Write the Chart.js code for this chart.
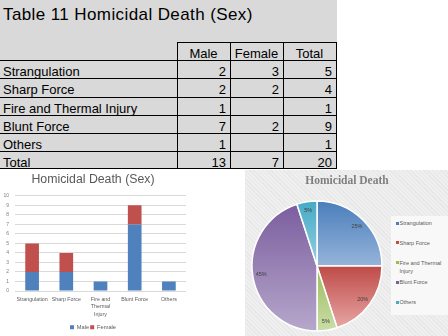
<!DOCTYPE html>
<html><head><meta charset="utf-8">
<script src="https://cdn.jsdelivr.net/npm/chart.js@4/dist/chart.umd.min.js"></script>
<style>
html,body{margin:0;padding:0;background:#fff;}
body{width:448px;height:336px;position:relative;overflow:hidden;font-family:"Liberation Sans",Arial,sans-serif;}
#sheet{position:absolute;left:0;top:0;width:337px;height:169px;background:#d9d9d9;}
.hl{position:absolute;height:1px;background:#000;}
.vl{position:absolute;width:1px;background:#000;}
.cell{position:absolute;height:18px;line-height:18px;font-size:13px;color:#000;white-space:nowrap;}
#ttl{position:absolute;left:3px;top:5px;font-size:17px;line-height:20px;letter-spacing:0.4px;white-space:nowrap;color:#000;}
#barWrap{position:absolute;left:0;top:170px;width:225px;height:166px;}
#pieWrap{position:absolute;left:245px;top:170px;width:203px;height:166px;background-color:#efefef;
  background-image:repeating-linear-gradient(45deg,rgba(0,0,0,0.035) 0 1px,transparent 1px 3px);}
#pieTitle{position:absolute;left:0;width:204px;top:3px;text-align:center;font-family:"Liberation Serif",serif;font-weight:bold;font-size:11.5px;line-height:14px;color:#7f7f7f;}
#pieLegend{position:absolute;left:146px;top:46px;width:57px;height:99px;background:#f8f8f8;}
.li{position:absolute;left:0;width:57px;font-size:5.5px;line-height:8px;color:#595959;}
.mk{position:absolute;left:5px;top:2.5px;width:3px;height:3px;}
.tx{position:absolute;left:8.5px;top:0;white-space:nowrap;}
canvas{position:absolute;left:0;top:0;}
</style>
</head>
<body>
<div id="sheet"><div id="ttl"></div></div>
<div id="barWrap"><canvas id="bar" width="225" height="166"></canvas></div>
<div id="pieWrap"><canvas id="pie" width="203" height="166"></canvas><div id="pieTitle"></div><div id="pieLegend"></div></div>
<script>
// ---- data ----
const tableTitle = 'Table 11 Homicidal Death (Sex)';
const columnHeaders = ['Male', 'Female', 'Total'];
const categories = ['Strangulation', 'Sharp Force', 'Fire and Thermal Injury', 'Blunt Force', 'Others'];
const maleCounts = [2, 2, 1, 7, 1];
const femaleCounts = [3, 2, null, 2, null];
const rowTotals = [5, 4, 1, 9, 1];
const totalLabel = 'Total';
const columnTotals = [13, 7, 20];
const barTitle = 'Homicidal Death (Sex)';
const barTickLabels = ['Strangulation', 'Sharp Force', ['Fire and', 'Thermal', 'Injury'], 'Blunt Force', 'Others'];
const pieTitle = 'Homicidal Death';
const pieLegendLabels = ['Strangulation', 'Sharp Force', ['Fire and Thermal', 'Injury'], 'Blunt Force', 'Others'];

// ---- styles / layout ----
const FONT = '"Liberation Sans", Arial, sans-serif';
const MALE_COLOR = '#4f81bd', FEMALE_COLOR = '#c0504d';
const sliceColors = [['#4a7ebb', '#96b4da'], ['#be4b48', '#e7a6a4'], ['#9bbb59', '#cadda8'], ['#7b5e9f', '#b6a7cb'], ['#46aac5', '#95d0e1']];
const PIE_R = 65;
const colX = [177, 230, 283, 336];
const rowY = [42, 60, 78, 97, 115, 133, 151, 168];

// ---- spreadsheet table ----
const sheet = document.getElementById('sheet');
document.getElementById('ttl').textContent = tableTitle;
function el(cls, css, text) {
  const d = document.createElement('div'); d.className = cls; Object.assign(d.style, css);
  if (text !== undefined && text !== null) d.textContent = text; sheet.appendChild(d); return d;
}
el('hl', {left: colX[0] + 'px', top: rowY[0] + 'px', width: (colX[3] - colX[0] + 1) + 'px'});
for (let k = 1; k < rowY.length; k++) el('hl', {left: '0px', top: rowY[k] + 'px', width: (colX[3] + 1) + 'px'});
colX.forEach(x => el('vl', {left: x + 'px', top: rowY[0] + 'px', height: (rowY[rowY.length - 1] - rowY[0] + 1) + 'px'}));
columnHeaders.forEach((h, c) => el('cell', {left: colX[c] + 'px', width: (colX[c + 1] - colX[c]) + 'px', top: (rowY[0] + 2.5) + 'px', textAlign: 'center'}, h));
const rows = categories.map((n, i) => [n, maleCounts[i], femaleCounts[i], rowTotals[i]]);
rows.push([totalLabel].concat(columnTotals));
rows.forEach((r, i) => {
  const top = rowY[i + 1] + 2.5;
  el('cell', {left: '3px', top: top + 'px'}, r[0]);
  for (let c = 0; c < 3; c++) {
    el('cell', {left: colX[c] + 'px', width: (colX[c + 1] - colX[c] - 4) + 'px', top: top + 'px', textAlign: 'right'}, r[c + 1]);
  }
});

// ---- stacked bar chart ----
new Chart(document.getElementById('bar'), {
  type: 'bar',
  data: {
    labels: barTickLabels,
    datasets: [
      {label: 'Male', data: maleCounts, backgroundColor: MALE_COLOR, stack: 's'},
      {label: 'Female', data: femaleCounts, backgroundColor: FEMALE_COLOR, stack: 's'}
    ]
  },
  options: {
    responsive: false, animation: false, devicePixelRatio: 1,
    layout: {padding: {left: 0, right: 39, top: 0, bottom: -4}},
    datasets: {bar: {barPercentage: 0.4, categoryPercentage: 1}},
    scales: {
      x: {
        stacked: true,
        grid: {display: false, drawTicks: false}, border: {display: false},
        ticks: {font: {size: 5.3, family: FONT, lineHeight: 1.45}, color: '#595959', padding: 4.5, maxRotation: 0, minRotation: 0, autoSkip: false},
        afterFit(s) { s.height = 32.3; }
      },
      y: {
        stacked: true, min: 0, max: 10,
        ticks: {stepSize: 1, font: {size: 5, family: FONT}, color: '#7f7f7f', padding: 6},
        grid: {color: '#d9d9d9', drawTicks: false}, border: {display: false},
        afterFit(s) { s.width = 15; }
      }
    },
    plugins: {
      title: {display: true, text: barTitle, color: '#595959', font: {size: 12.3, weight: 'normal', family: FONT, lineHeight: 1.2}, padding: {top: 2.1, bottom: 9}},
      legend: {position: 'bottom', labels: {boxWidth: 4, boxHeight: 4, font: {size: 5.7, family: FONT}, color: '#595959', padding: 1}},
      tooltip: {enabled: false}
    }
  }
});

// ---- pie chart ----
function sliceGradient(c) {
  const ch = c.chart, a = ch.chartArea, i = c.dataIndex, pair = sliceColors[i];
  if (!a) return pair[0];
  const d = c.dataset.data, tot = d.reduce((s, v) => s + v, 0);
  let before = 0; for (let k = 0; k < i; k++) before += d[k];
  const t0 = before / tot * 2 * Math.PI, t1 = (before + d[i]) / tot * 2 * Math.PI;
  const cy = (a.top + a.bottom) / 2;
  const ys = [cy, cy - PIE_R * Math.cos(t0), cy - PIE_R * Math.cos(t1)];
  if (t0 <= 1e-9) ys.push(cy - PIE_R);
  if (t0 <= Math.PI && t1 >= Math.PI) ys.push(cy + PIE_R);
  const g = ch.ctx.createLinearGradient(0, Math.min(...ys), 0, Math.max(...ys));
  g.addColorStop(0, pair[0]); g.addColorStop(1, pair[1]);
  return g;
}
const pctLabels = {
  id: 'pctLabels',
  afterDatasetsDraw(ch) {
    const meta = ch.getDatasetMeta(0), d = ch.data.datasets[0].data, tot = d.reduce((s, v) => s + v, 0);
    const ctx = ch.ctx; ctx.save();
    ctx.font = '5.5px ' + FONT; ctx.fillStyle = '#404040'; ctx.textAlign = 'center'; ctx.textBaseline = 'middle';
    meta.data.forEach((arc, i) => {
      const p = arc.getProps(['x', 'y', 'startAngle', 'endAngle', 'outerRadius'], true);
      const m = (p.startAngle + p.endAngle) / 2, rr = p.outerRadius * 0.87;
      ctx.fillText(Math.round(d[i] / tot * 100) + '%', p.x + Math.cos(m) * rr, p.y + Math.sin(m) * rr);
    });
    ctx.restore();
  }
};
new Chart(document.getElementById('pie'), {
  type: 'pie',
  data: {labels: categories, datasets: [{data: rowTotals, backgroundColor: sliceGradient, borderColor: '#ffffff', borderWidth: 1.5, radius: PIE_R, hoverOffset: 0}]},
  options: {
    responsive: false, animation: false, devicePixelRatio: 1,
    layout: {padding: {left: 7, right: 66, top: 31, bottom: 5}},
    plugins: {legend: {display: false}, title: {display: false}, tooltip: {enabled: false}}
  },
  plugins: [pctLabels]
});
document.getElementById('pieTitle').textContent = pieTitle;
const leg = document.getElementById('pieLegend');
pieLegendLabels.forEach((lab, i) => {
  const it = document.createElement('div'); it.className = 'li'; it.style.top = (3 + i * 19.8) + 'px';
  const mk = document.createElement('div'); mk.className = 'mk'; mk.style.background = sliceColors[i][0];
  const tx = document.createElement('div'); tx.className = 'tx';
  (Array.isArray(lab) ? lab : [lab]).forEach((line, j) => { if (j) tx.appendChild(document.createElement('br')); tx.appendChild(document.createTextNode(line)); });
  it.appendChild(mk); it.appendChild(tx); leg.appendChild(it);
});
</script>
</body></html>
